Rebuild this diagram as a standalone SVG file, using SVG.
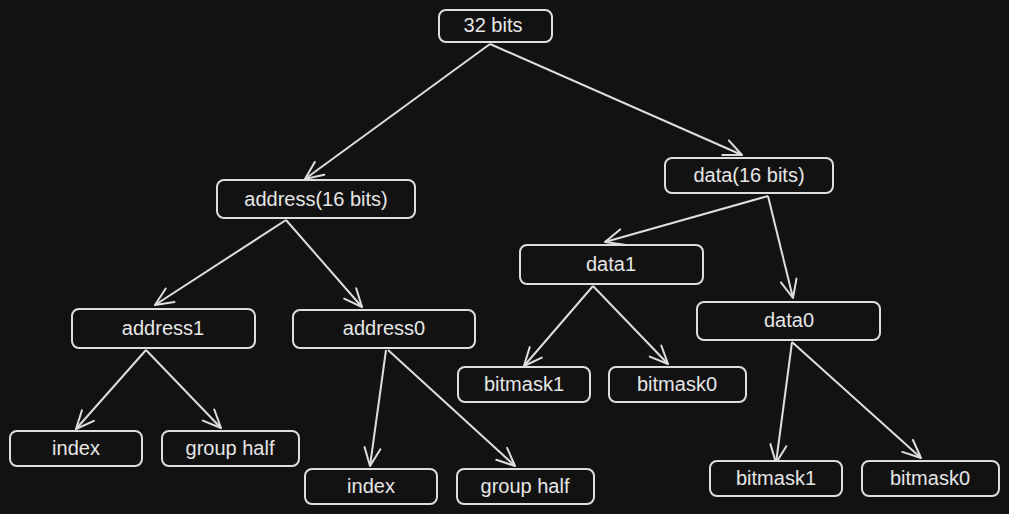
<svg xmlns="http://www.w3.org/2000/svg" width="1009" height="514" viewBox="0 0 1009 514">
<style>
.n rect{fill:#121212;stroke:#dedede;stroke-width:2}
.n text{fill:#e6e6e6;font-family:"Liberation Sans","Open Sans",sans-serif;font-size:20px;text-anchor:middle;dominant-baseline:central}
.c line{stroke:#dedede;stroke-width:2;fill:none;marker-end:url(#ah)}
</style>
<defs>
<marker id="ah" viewBox="-20 -10 22 20" refX="0" refY="0" markerWidth="22" markerHeight="20" markerUnits="userSpaceOnUse" orient="auto">
<path d="M-18,-8 L0,0 L-18,8" fill="none" stroke="#dedede" stroke-width="2" stroke-linecap="round" stroke-linejoin="round"/>
</marker>
</defs>
<rect width="1009" height="514" fill="#121212"/>
<g class="c">
<line x1="490" y1="44" x2="305" y2="179"/>
<line x1="490" y1="44" x2="742" y2="155"/>
<line x1="286" y1="220" x2="155" y2="305"/>
<line x1="286" y1="220" x2="362" y2="307"/>
<line x1="768" y1="196" x2="605" y2="242"/>
<line x1="768" y1="196" x2="793" y2="298"/>
<line x1="146" y1="350" x2="76" y2="429"/>
<line x1="146" y1="350" x2="221" y2="428"/>
<line x1="386" y1="350" x2="370" y2="466"/>
<line x1="388" y1="350" x2="515" y2="466"/>
<line x1="593" y1="286" x2="524" y2="366"/>
<line x1="593" y1="286" x2="668" y2="364"/>
<line x1="792" y1="342" x2="776" y2="463"/>
<line x1="792" y1="342" x2="921" y2="458"/>
</g>
<g id="n32" class="n"><rect x="439" y="10" width="113" height="32" rx="7"/><text x="493" y="25">32 bits</text></g>
<g id="naddr" class="n"><rect x="217" y="180" width="198" height="38" rx="7"/><text x="316" y="199">address(16 bits)</text></g>
<g id="ndata" class="n"><rect x="665" y="158" width="168" height="35" rx="7"/><text x="749" y="175">data(16 bits)</text></g>
<g id="naddr1" class="n"><rect x="72" y="309" width="183" height="39" rx="7"/><text x="163" y="328">address1</text></g>
<g id="naddr0" class="n"><rect x="293" y="310" width="182" height="38" rx="7"/><text x="384" y="328">address0</text></g>
<g id="ndata1" class="n"><rect x="520" y="245" width="183" height="39" rx="7"/><text x="611" y="264">data1</text></g>
<g id="ndata0" class="n"><rect x="697" y="302" width="183" height="38" rx="7"/><text x="789" y="320">data0</text></g>
<g id="nidx1" class="n"><rect x="10" y="431" width="132" height="35" rx="7"/><text x="76" y="448">index</text></g>
<g id="ngh1" class="n"><rect x="162" y="431" width="137" height="35" rx="7"/><text x="230" y="448">group half</text></g>
<g id="nidx0" class="n"><rect x="305" y="469" width="132" height="35" rx="7"/><text x="371" y="486">index</text></g>
<g id="ngh0" class="n"><rect x="457" y="469" width="137" height="35" rx="7"/><text x="525" y="486">group half</text></g>
<g id="nbm11" class="n"><rect x="458" y="367" width="132" height="35" rx="7"/><text x="524" y="384">bitmask1</text></g>
<g id="nbm10" class="n"><rect x="609" y="367" width="137" height="35" rx="7"/><text x="677" y="384">bitmask0</text></g>
<g id="nbm01" class="n"><rect x="710" y="461" width="132" height="35" rx="7"/><text x="776" y="478">bitmask1</text></g>
<g id="nbm00" class="n"><rect x="862" y="461" width="137" height="35" rx="7"/><text x="930" y="478">bitmask0</text></g>
</svg>
